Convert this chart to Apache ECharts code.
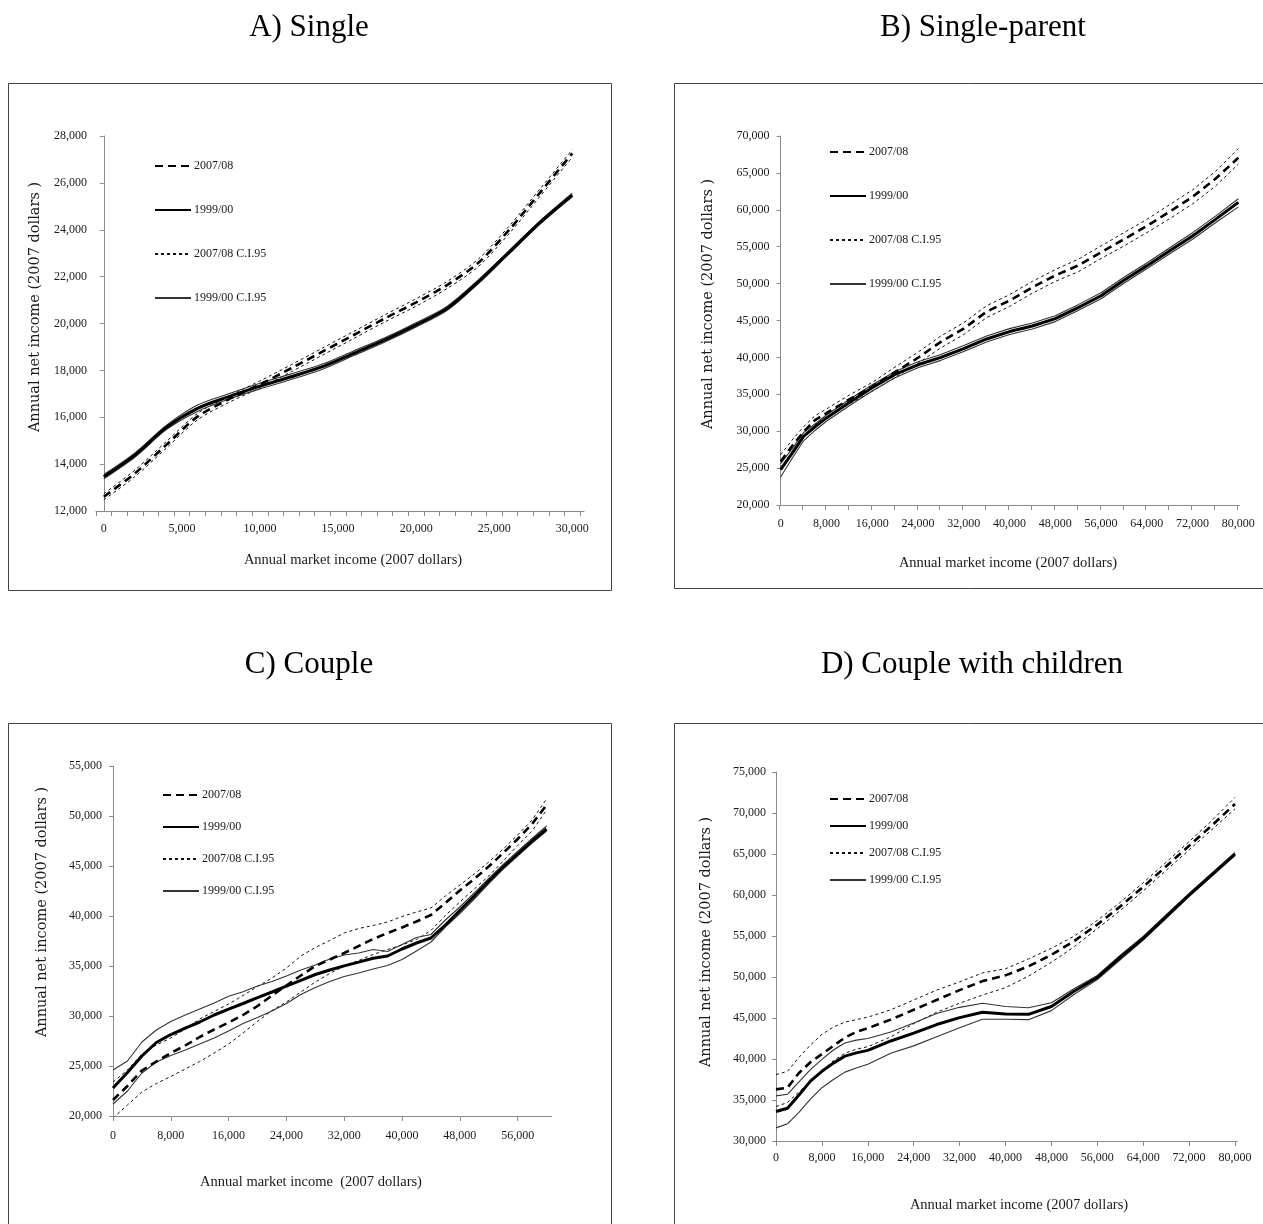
<!DOCTYPE html>
<html>
<head>
<meta charset="utf-8">
<script src="https://cdn.jsdelivr.net/npm/echarts/dist/echarts.min.js"></script>
<style>
html,body{margin:0;padding:0;background:#fff;}
#chart{width:1263px;height:1224px;}
</style>
</head>
<body>
<div id="chart"></div>
<script>
// ---------- Panel A: Single ----------
const xA = [0,2000,4000,6000,8000,10000,12000,14000,16000,18000,20000,22000,24000,26000,28000,30000];
const a0708   = [12610,13610,14820,16025,16765,17400,18090,18800,19510,20220,20900,21650,22600,24030,25640,27260];
const a0708Hi = [12740,13750,14960,16160,16900,17550,18240,18950,19660,20370,21060,21800,22760,24190,25800,27420];
const a0708Lo = [12480,13470,14680,15890,16630,17250,17940,18650,19360,20070,20740,21500,22440,23870,25480,27100];
const a9900   = [13460,14390,15560,16380,16880,17330,17730,18160,18730,19300,19940,20650,21790,23070,24350,25480];
const a9900Hi = [13560,14480,15650,16520,17000,17450,17850,18270,18830,19390,20030,20740,21870,23140,24420,25560];
const a9900Lo = [13370,14300,15470,16250,16770,17210,17610,18050,18630,19210,19850,20560,21710,23000,24280,25410];
const xLabelsA = [0,5000,10000,15000,20000,25000,30000];

// ---------- Panel B: Single-parent ----------
const xB = [0,2000,4000,6000,8000,12000,16000,20000,24000,28000,32000,36000,40000,44000,48000,52000,56000,60000,64000,68000,72000,76000,80000];
const b0708   = [25900,28000,29900,31500,32450,34300,36000,38000,39950,42100,43900,46200,47700,49500,51100,52450,54250,56000,57800,59750,61750,64200,67050];
const b0708Hi = [26800,28800,30600,32100,33000,34900,36600,38700,40700,42900,44700,47000,48500,50300,51900,53300,55100,56900,58700,60700,62700,65200,68300];
const b0708Lo = [25100,27200,29200,30900,31900,33700,35400,37300,39200,41300,43100,45400,46900,48700,50300,51600,53400,55100,56900,58800,60800,63200,66200];
const b9900   = [24800,27000,29300,30600,31800,33900,35900,37700,39000,40000,41200,42500,43500,44250,45250,46750,48350,50450,52400,54450,56450,58700,61000];
const b9900Hi = [25600,27600,29800,31000,32200,34300,36300,38100,39400,40400,41600,42900,43900,44650,45650,47150,48750,50850,52800,54850,56900,59150,61500];
const b9900Lo = [23800,26300,28700,30100,31350,33450,35450,37250,38600,39600,40800,42100,43100,43850,44850,46350,47950,50050,52000,54050,56000,58250,60400];
const xLabelsB = [0,8000,16000,24000,32000,40000,48000,56000,64000,72000,80000];

// ---------- Panel C: Couple ----------
const xC = [0,2000,4000,6000,8000,10000,12000,14000,16000,18000,20000,22000,24000,26000,28000,30000,32000,34000,36000,38000,40000,42000,44000,46000,48000,50000,52000,54000,56000,58000,60000];
const c0708   = [21600,23000,24550,25450,26300,27050,27900,28650,29350,30100,31000,32050,33050,34050,35000,35650,36300,37000,37700,38300,38850,39450,40100,41300,42550,43700,44950,46300,47700,49200,51100];
const c0708Hi = [23400,24600,26200,27100,27800,28700,29700,30450,31200,32050,32950,33800,34800,36000,36850,37550,38300,38750,39050,39400,39950,40400,40800,42000,43100,44200,45400,46700,48100,49600,51700];
const c0708Lo = [19800,21100,22400,23250,23950,24700,25450,26300,27200,28300,29450,30550,31400,32400,33400,34250,35000,35550,36150,36650,37100,37650,38550,40050,41400,42700,44000,45500,47050,48500,50600];
const c9900   = [22800,24350,26000,27350,28150,28780,29400,30100,30680,31250,31830,32400,32990,33570,34150,34600,35010,35390,35780,36000,36700,37300,37800,39100,40550,42000,43500,44900,46200,47500,48700];
const c9900Hi = [24600,25500,27400,28600,29450,30100,30700,31300,31980,32420,33000,33450,34000,34600,35100,35700,36100,36300,36650,36450,37150,37850,38150,39600,40900,42300,43750,45150,46450,47750,49000];
const c9900Lo = [21200,22500,24300,25400,26050,26600,27200,27800,28500,29250,29850,30500,31250,32150,32850,33450,33950,34300,34700,35050,35650,36500,37400,38900,40250,41700,43250,44700,46000,47300,48500];
const xLabelsC = [0,8000,16000,24000,32000,40000,48000,56000];

// ---------- Panel D: Couple with children ----------
const xD = [0,2000,4000,6000,8000,10000,12000,14000,16000,20000,24000,28000,32000,36000,40000,44000,48000,52000,56000,60000,64000,68000,72000,76000,80000];
const d0708   = [36300,36500,38300,39600,40600,41600,42600,43300,43750,44800,46000,47200,48400,49500,50200,51300,52700,54400,56400,58600,61000,63500,66000,68500,71100];
const d0708Hi = [38100,38500,40200,41700,43000,43900,44500,44800,45100,46000,47200,48400,49400,50500,51000,52200,53500,55000,56900,59100,61500,64000,66500,69100,71900];
const d0708Lo = [34200,34700,36000,37200,38500,39800,40700,41200,41500,42700,44300,45700,46800,47800,48700,50100,51800,53700,55900,58100,60500,63000,65500,68000,70500];
const d9900   = [33600,34000,35600,37300,38500,39500,40350,40750,41050,42200,43150,44200,45050,45700,45500,45450,46400,48300,49950,52400,54700,57350,60000,62500,65000];
const d9900Hi = [35500,35700,37200,38700,39950,41100,41950,42300,42500,43300,44400,45550,46300,46800,46400,46250,46850,48600,50200,52650,54950,57600,60200,62700,65200];
const d9900Lo = [31600,32100,33500,35100,36500,37500,38400,38900,39350,40700,41600,42700,43800,44850,44850,44800,45900,47900,49700,52100,54500,57150,59800,62300,64800];
const xLabelsD = [0,8000,16000,24000,32000,40000,48000,56000,64000,72000,80000];

const legendNames = ['2007/08','1999/00','2007/08 C.I.95','1999/00 C.I.95'];
const panelTitles = ['A) Single','B) Single-parent','C) Couple','D) Couple with children'];
const yTitle = 'Annual net income (2007 dollars )';
const xTitles = ['Annual market income (2007 dollars)','Annual market income (2007 dollars)','Annual market income  (2007 dollars)','Annual market income (2007 dollars)'];

// ---------- layout / styling ----------
const SERIF = '"Liberation Serif", "Times New Roman", serif';
const WIDE = '"DejaVu Serif", serif';
const AXIS_COLOR = '#8a8a8a';
const TXT = '#1a1a1a';
const fmt = v => Math.round(v).toLocaleString('en-US');

function range(a, b, step){ const r=[]; for(let v=a; v<=b+1e-9; v+=step) r.push(v); return r; }

const panels = [
  {xs:xA, m07:a0708, h07:a0708Hi, l07:a0708Lo, m99:a9900, h99:a9900Hi, l99:a9900Lo,
   grid:{left:96, top:136, width:488, height:375}, xMin:-500, xMax:30750,
   xLabels:xLabelsA, xTicks:range(-500,30500,1000), yMin:12000, yMax:28000, yStep:2000,
   yMargin:9, xMargin:12, legend:{left:154, top:160, gap:32}, smooth:0.3,
   title:[309,28], yT:[35,307], xT:[353,560], border:[8.5,83.5,603,507]},
  {xs:xB, m07:b0708, h07:b0708Hi, l07:b0708Lo, m99:b9900, h99:b9900Hi, l99:b9900Lo,
   grid:{left:779.5, top:136, width:460, height:369}, xMin:-200, xMax:80200,
   xLabels:xLabelsB, xTicks:range(-200,79800,4000), yMin:20000, yMax:70000, yStep:5000,
   yMargin:10, xMargin:13, legend:{left:829, top:146, gap:32}, smooth:false,
   title:[983,28], yT:[708,304], xT:[1008,563], border:[674.5,83.5,600,505]},
  {xs:xC, m07:c0708, h07:c0708Hi, l07:c0708Lo, m99:c9900, h99:c9900Hi, l99:c9900Lo,
   grid:{left:113, top:766, width:438.6, height:350}, xMin:0, xMax:60700,
   xLabels:xLabelsC, xTicks:xLabelsC, yMin:20000, yMax:55000, yStep:5000,
   yMargin:11, xMargin:14, legend:{left:162, top:789, gap:20}, smooth:false,
   title:[309,665], yT:[42,912], xT:[311,1182], border:[8.5,723.5,603,520]},
  {xs:xD, m07:d0708, h07:d0708Hi, l07:d0708Lo, m99:d9900, h99:d9900Hi, l99:d9900Lo,
   grid:{left:776, top:772, width:461.3, height:369}, xMin:0, xMax:80400,
   xLabels:xLabelsD, xTicks:xLabelsD, yMin:30000, yMax:75000, yStep:5000,
   yMargin:10, xMargin:11, legend:{left:829, top:793, gap:15}, smooth:false,
   title:[972,665], yT:[706,942], xT:[1019,1205], border:[674.5,723.5,600,520]}
];

const STY = {
  '2007/08':        {color:'#000', width:2.6, type:[8,5], z:5},
  '1999/00':        {color:'#000', width:3,   type:'solid', z:6},
  '2007/08 C.I.95': {color:'#111', width:1,   type:[3,3], z:3},
  '1999/00 C.I.95': {color:'#333', width:1.1, type:'solid', z:4}
};

function pairs(xs, ys){ return xs.map((x,i)=>[x, ys[i]]); }
function line(name, idx, xs, ys, smooth){
  const s = STY[name];
  return {
    type:'line', name, xAxisIndex:idx, yAxisIndex:idx, data:pairs(xs, ys),
    symbol:'none', showSymbol:false, smooth: smooth || false, z:s.z, silent:true,
    lineStyle:{color:s.color, width:s.width, type:s.type},
    itemStyle:{color:s.color}, emphasis:{disabled:true}
  };
}

const grids=[], xAxes=[], yAxes=[], series=[], legends=[], graphics=[];
panels.forEach((p, i) => {
  grids.push(Object.assign({outerBoundsMode:'none', containLabel:false}, p.grid));
  xAxes.push({
    type:'value', gridIndex:i, min:p.xMin, max:p.xMax,
    splitLine:{show:false},
    axisLine:{show:true, onZero:false, lineStyle:{color:AXIS_COLOR, width:1}},
    axisTick:{show:true, length:5, inside:false, customValues:p.xTicks, lineStyle:{color:AXIS_COLOR}},
    axisLabel:{show:true, customValues:p.xLabels, margin:p.xMargin, formatter:fmt,
      color:TXT, fontFamily:SERIF, fontSize:12}
  });
  yAxes.push({
    type:'value', gridIndex:i, min:p.yMin, max:p.yMax, interval:p.yStep,
    splitLine:{show:false},
    axisLine:{show:true, lineStyle:{color:AXIS_COLOR, width:1}},
    axisTick:{show:true, length:4, inside:false, lineStyle:{color:AXIS_COLOR}},
    axisLabel:{show:true, margin:p.yMargin, formatter:fmt, color:TXT, fontFamily:SERIF, fontSize:12}
  });
  series.push(
    line('2007/08 C.I.95', i, p.xs, p.h07, p.smooth),
    line('2007/08 C.I.95', i, p.xs, p.l07, p.smooth),
    line('1999/00 C.I.95', i, p.xs, p.h99, p.smooth),
    line('1999/00 C.I.95', i, p.xs, p.l99, p.smooth),
    line('2007/08', i, p.xs, p.m07, p.smooth),
    line('1999/00', i, p.xs, p.m99, p.smooth)
  );
  legends.push({
    show:true, orient:'vertical', left:p.legend.left, top:p.legend.top,
    itemWidth:36, itemHeight:14, itemGap:p.legend.gap, padding:0,
    selectedMode:false, data:legendNames,
    itemStyle:{opacity:0, color:'rgba(0,0,0,0)', borderWidth:0},
    textStyle:{color:TXT, fontFamily:SERIF, fontSize:12, padding:[0,0,0,-2]}
  });
  const [bx,by,bw,bh] = p.border;
  graphics.push({type:'rect', silent:true, shape:{x:bx, y:by, width:bw, height:bh},
    style:{fill:'none', stroke:'#444', lineWidth:1}});
  graphics.push({type:'text', silent:true, x:p.title[0], y:p.title[1],
    style:{text:panelTitles[i], font:'31px ' + SERIF, fill:'#000',
      align:'center', textAlign:'center', verticalAlign:'middle', textVerticalAlign:'middle'}});
  graphics.push({type:'text', silent:true, x:p.yT[0], y:p.yT[1], rotation:Math.PI/2,
    style:{text:yTitle, font:'14.5px ' + WIDE, fill:TXT,
      align:'center', textAlign:'center', verticalAlign:'middle', textVerticalAlign:'middle'}});
  graphics.push({type:'text', silent:true, x:p.xT[0], y:p.xT[1],
    style:{text:xTitles[i], font:'14.5px ' + SERIF, fill:TXT,
      align:'center', textAlign:'center', verticalAlign:'middle', textVerticalAlign:'middle'}});
});

const chart = echarts.init(document.getElementById('chart'), null, {renderer:'canvas'});
chart.setOption({
  backgroundColor:'#fff',
  animation:false,
  grid:grids, xAxis:xAxes, yAxis:yAxes,
  legend:legends, series:series,
  graphic:{elements:graphics},
  tooltip:{show:false}
});
</script>
</body>
</html>
